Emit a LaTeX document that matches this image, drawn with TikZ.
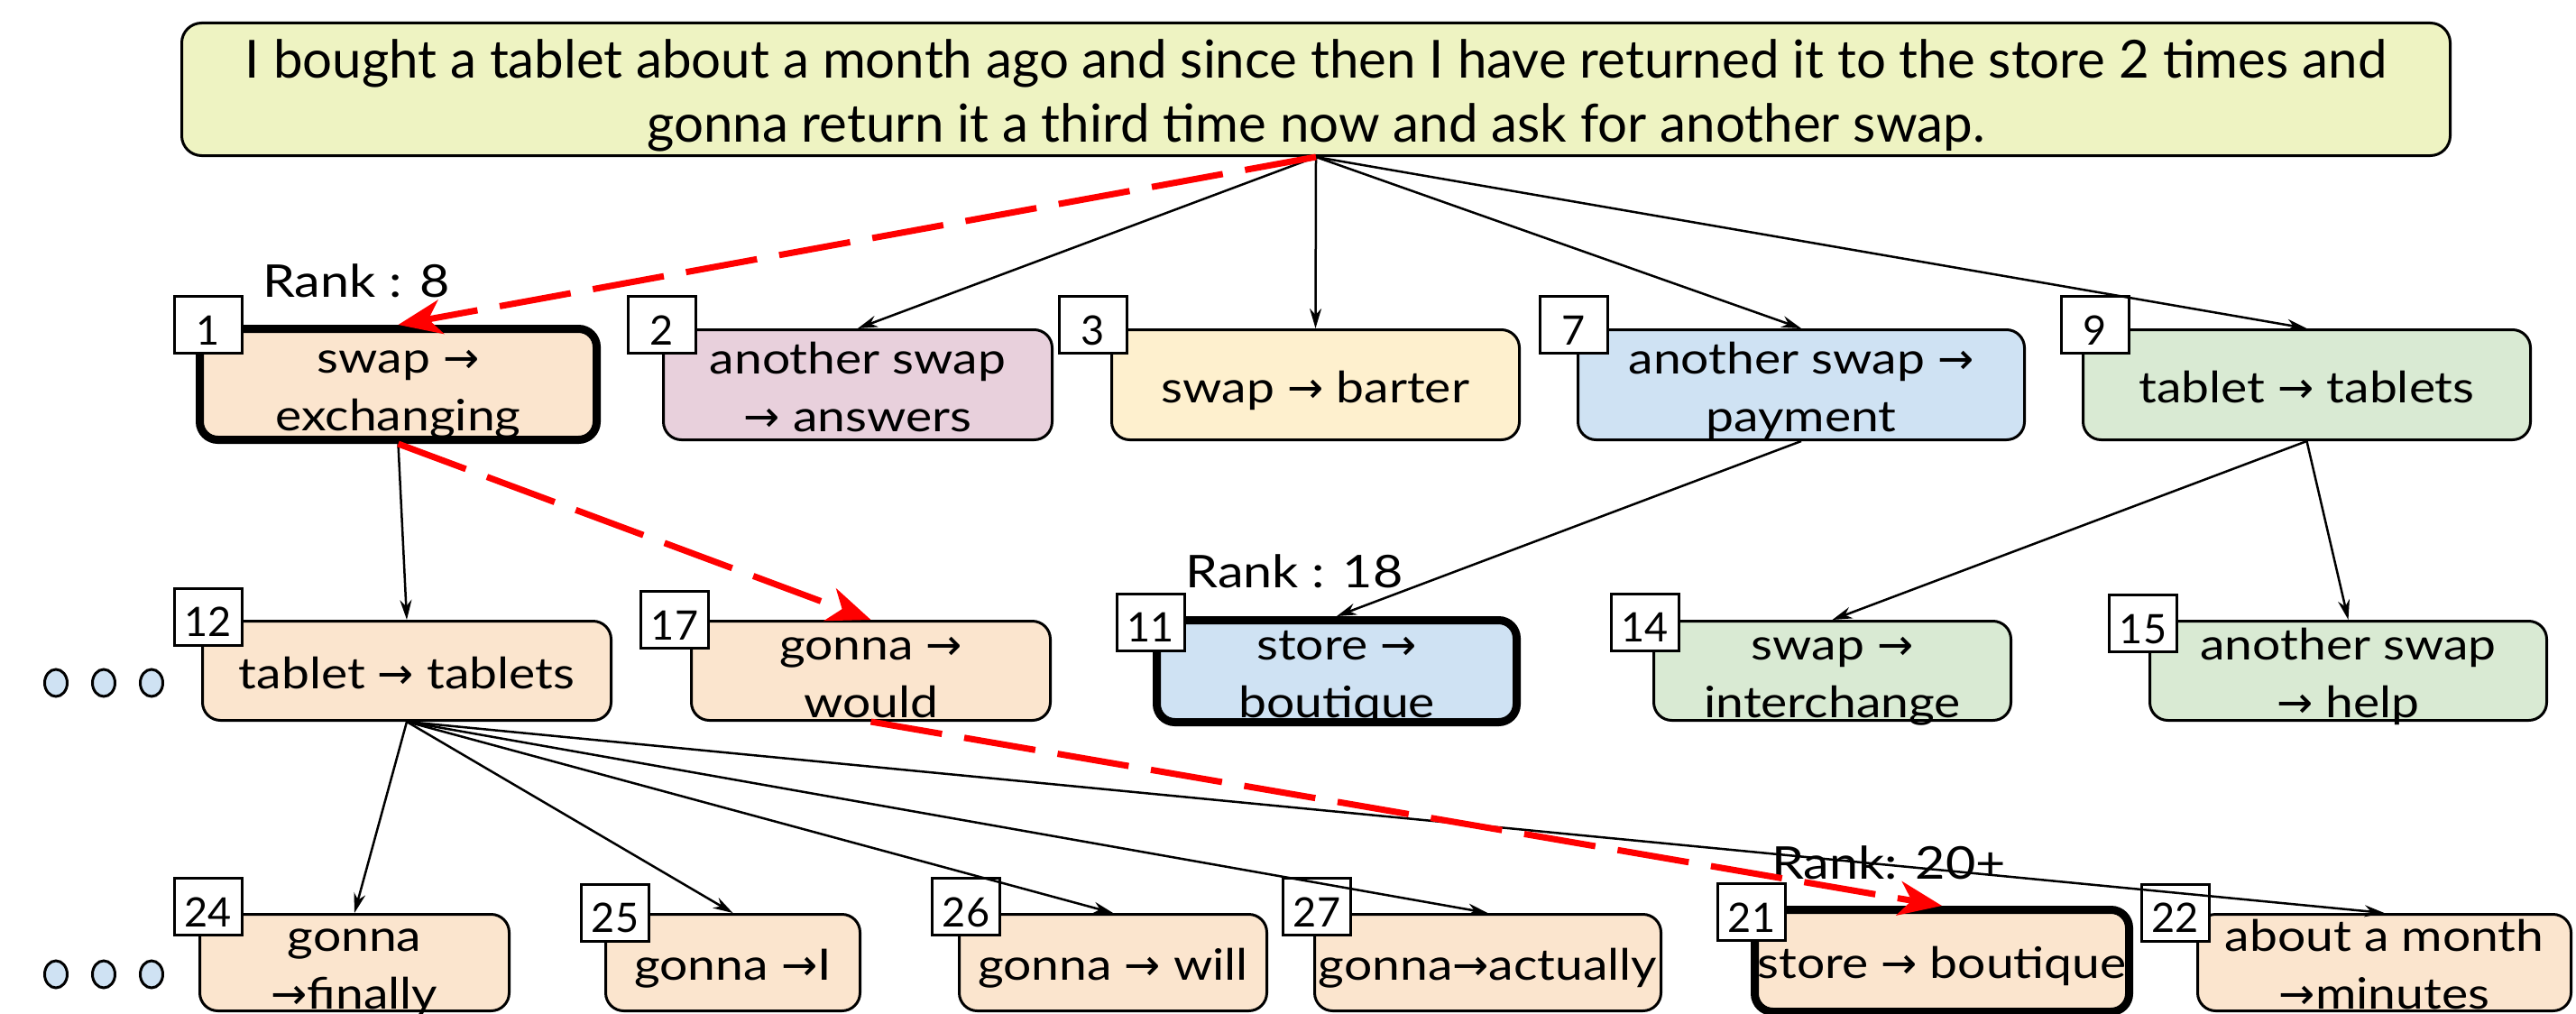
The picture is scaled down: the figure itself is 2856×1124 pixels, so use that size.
\documentclass[tikz,border=0pt]{standalone}
\usepackage{fontspec}
\setmainfont{Lato}
\newfontfamily\boxfont{Lato}[FakeStretch=1.15]
\newfontfamily\arrfont{DejaVu Sans}
\usetikzlibrary{arrows.meta,shapes.geometric}
\definecolor{rootfill}{HTML}{EEF3C2}
\definecolor{peach}{HTML}{FBE5CE}
\definecolor{pinkfill}{HTML}{E8D0DC}
\definecolor{yellowfill}{HTML}{FEF0CE}
\definecolor{bluefill}{HTML}{CFE2F3}
\definecolor{greenfill}{HTML}{D9EAD3}
\newcommand\myarr{{\arrfont →}}
\newcommand\tx[1]{\raisebox{-7pt}[\height][\depth]{\begin{tabular}{@{}c@{}}#1\end{tabular}}}
\begin{document}
\begin{tikzpicture}[x=1pt,y=-1pt,
  box/.style={draw, line width=3pt, rounded corners=20pt, inner xsep=0pt, inner ysep=-30pt,
    font=\boxfont\fontsize{48}{64}\selectfont},
  thickbox/.style={box, line width=9pt},
  numlbl/.style={draw, fill=white, line width=3pt, minimum width=75pt, minimum height=63pt,
    inner sep=0pt, text height=44pt, text depth=0pt, font=\fontsize{45}{50}\selectfont},
  ranklbl/.style={inner sep=0pt, font=\boxfont\fontsize{50}{60}\selectfont},
  edge/.style={line width=2.5pt, -{Stealth[length=22pt,width=13pt,inset=7pt]}},
  redge/.style={draw=red, line width=7pt, dash pattern=on 80pt off 25pt,
    -{Stealth[length=48pt,width=38pt,inset=14pt]}},
  dotnode/.style={ellipse, draw, fill=bluefill, line width=3pt, minimum width=25pt,
    minimum height=30pt, inner sep=0pt}
]
\useasboundingbox (0,0) rectangle (2856,1124);
\clip (0,0) rectangle (2856,1124);

% root
\node[box, fill=rootfill, rounded corners=22pt, minimum width=2515pt, minimum height=147pt,
  font=\fontsize{58.2}{71}\selectfont] (root) at (1459,99)
  {\raisebox{-9pt}[\height][\depth]{\begin{tabular}{@{}c@{}}I bought a tablet about a month ago and since then I have returned it to the store 2 times and\\
   gonna return it a third time now and ask for another swap.\end{tabular}}};

% row 1
\node[thickbox, fill=peach, minimum width=440pt, minimum height=123pt] (b1) at (441.5,426) {\tx{swap \myarr\\exchanging}};
\node[box, fill=pinkfill, minimum width=431pt, minimum height=122pt] (b2) at (951,426.5) {\tx{another swap\\\myarr{} answers}};
\node[box, fill=yellowfill, minimum width=452pt, minimum height=122pt] (b3) at (1458.5,426.5) {\tx{swap \myarr{} barter}};
\node[box, fill=bluefill, minimum width=495pt, minimum height=122pt] (b7) at (1997,426.5) {\tx{another swap \myarr\\payment}};
\node[box, fill=greenfill, minimum width=496pt, minimum height=122pt] (b9) at (2557.5,426.5) {\tx{tablet \myarr{} tablets}};

% row 2
\node[box, fill=peach, minimum width=453pt, minimum height=110pt] (b12) at (451,743.5) {\tx{tablet \myarr{} tablets}};
\node[box, fill=peach, minimum width=398pt, minimum height=110pt] (b17) at (965.5,743.5) {\tx{gonna \myarr\\would}};
\node[thickbox, fill=bluefill, minimum width=399pt, minimum height=113pt] (b11) at (1482,744) {\tx{store \myarr\\boutique}};
\node[box, fill=greenfill, minimum width=396pt, minimum height=110pt] (b14) at (2031.5,743.5) {\tx{swap \myarr\\interchange}};
\node[box, fill=greenfill, minimum width=440pt, minimum height=110pt] (b15) at (2603.5,743.5) {\tx{another swap\\\myarr{} help}};

% row 3
\node[box, fill=peach, minimum width=343pt, minimum height=107pt] (b24) at (393,1067) {\tx{gonna\\\myarr finally}};
\node[box, fill=peach, minimum width=282pt, minimum height=107pt] (b25) at (812.5,1067) {\tx{gonna \myarr I}};
\node[box, fill=peach, minimum width=341pt, minimum height=107pt] (b26) at (1234,1067) {\tx{gonna \myarr{} will}};
\node[box, fill=peach, minimum width=384pt, minimum height=107pt] (b27) at (1649.5,1067) {\tx{gonna\myarr actually}};
\node[thickbox, fill=peach, minimum width=415pt, minimum height=113pt] (b21) at (2153,1065) {\tx{store \myarr{} boutique}};
\node[box, fill=peach, minimum width=414pt, minimum height=107pt] (b22) at (2643.5,1067) {\tx{about a month\\\myarr minutes}};

% number labels
\node[numlbl] (l1) at (230.5,360) {1};
\node[numlbl] (l2) at (733.5,360) {2};
\node[numlbl] (l3) at (1211.5,360) {3};
\node[numlbl] (l7) at (1744.5,360) {7};
\node[numlbl] (l9) at (2322.5,360) {9};
\node[numlbl] (l12) at (230.5,683.5) {12};
\node[numlbl] (l17) at (748,687) {17};
\node[numlbl] (l11) at (1275.5,689.5) {11};
\node[numlbl] (l14) at (1823.5,689.5) {14};
\node[numlbl] (l15) at (2376,691) {15};
\node[numlbl] (l24) at (230.5,1005) {24};
\node[numlbl] (l25) at (682,1011.5) {25};
\node[numlbl] (l26) at (1071,1005) {26};
\node[numlbl] (l27) at (1460,1005) {27};
\node[numlbl] (l21) at (1942,1011) {21};
\node[numlbl] (l22) at (2411.5,1011.5) {22};

% rank labels
\node[ranklbl] (r1) at (395,311) {Rank : 8};
\node[ranklbl] (r2) at (1435,633) {Rank : 18};
\node[ranklbl] (r3) at (2094,956) {Rank: 20+};

% dots
\node[dotnode] (d1) at (62,757) {};
\node[dotnode] (d2) at (115,757) {};
\node[dotnode] (d3) at (168,757) {};
\node[dotnode] (d4) at (62,1080) {};
\node[dotnode] (d5) at (115,1080) {};
\node[dotnode] (d6) at (168,1080) {};

% edges
\draw[edge] (root.south) -- (b2.north);
\draw[edge] (root.south) -- (b3.north);
\draw[edge] (root.south) -- (b7.north);
\draw[edge] (root.south) -- (b9.north);
\draw[edge] (b1.south) -- (b12.north);
\draw[edge] (b7.south) -- (b11.north);
\draw[edge] (b9.south) -- (b14.north);
\draw[edge] (b9.south) -- (b15.north);
\draw[edge] (b12.south) -- (b24.north);
\draw[edge] (b12.south) -- (b25.north);
\draw[edge] (b12.south) -- (b26.north);
\draw[edge] (b12.south) -- (b27.north);
\draw[edge] (b12.south) -- (b22.north);

\draw[redge] (root.south) -- (b1.north);
\draw[redge] (b1.south) -- (b17.north);
\draw[redge] (b17.south) -- (b21.north);
\end{tikzpicture}
\end{document}
